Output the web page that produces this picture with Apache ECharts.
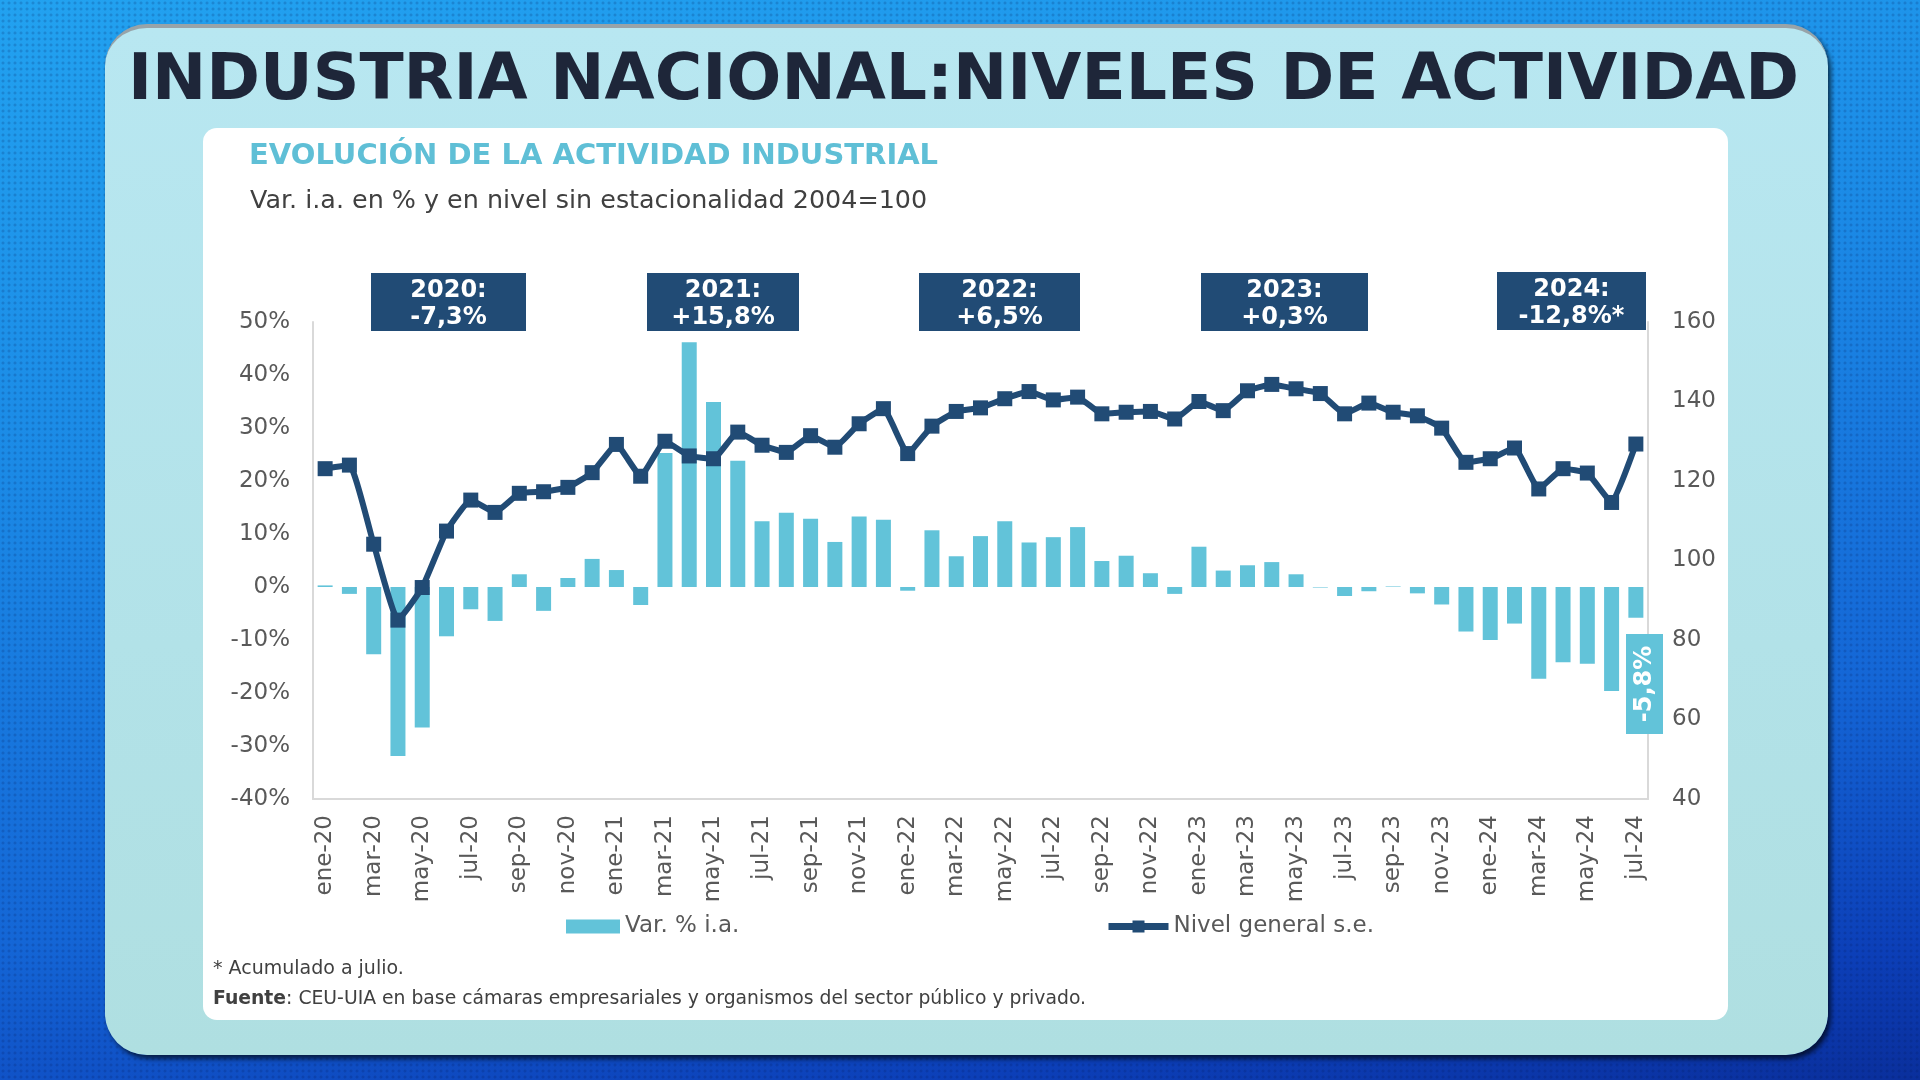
<!DOCTYPE html>
<html>
<head>
<meta charset="utf-8">
<script src="https://cdn.jsdelivr.net/npm/echarts@6/dist/echarts.min.js"></script>
<style>
html,body{margin:0;padding:0;width:1920px;height:1080px;overflow:hidden;}
body{
  background-color:#1a7fe0;
  background-image:
    radial-gradient(rgba(0,20,80,0.18) 1.2px, transparent 1.8px),
    linear-gradient(172deg,#22a2f0 0%,#1b8ae6 35%,#1466d6 70%,#0c3fb8 90%,#0a2f9c 100%);
  background-size:6px 6px, 100% 100%;
}
#panel{position:absolute;left:105px;top:24px;width:1723px;height:1031px;border-radius:42px;
  background:linear-gradient(#b8e7f1,#b2e2e8 60%,#afdfe1);
  border-top:4px solid #98a3a8;box-sizing:border-box;
  box-shadow:3px 4px 5px rgba(0,0,0,0.65);}
#card{position:absolute;left:203px;top:128px;width:1525px;height:892px;border-radius:14px;background:#ffffff;}
#chart{position:absolute;left:0;top:0;width:1920px;height:1080px;}
</style>
</head>
<body>
<div id="panel"></div>
<div id="card"></div>
<div id="chart"></div>
<script>
// ---- data ----
const months = [
  'ene-20','feb-20','mar-20','abr-20','may-20','jun-20','jul-20','ago-20','sep-20','oct-20','nov-20','dic-20',
  'ene-21','feb-21','mar-21','abr-21','may-21','jun-21','jul-21','ago-21','sep-21','oct-21','nov-21','dic-21',
  'ene-22','feb-22','mar-22','abr-22','may-22','jun-22','jul-22','ago-22','sep-22','oct-22','nov-22','dic-22',
  'ene-23','feb-23','mar-23','abr-23','may-23','jun-23','jul-23','ago-23','sep-23','oct-23','nov-23','dic-23',
  'ene-24','feb-24','mar-24','abr-24','may-24','jun-24','jul-24'
];
const varPct = [
  0.3,-1.3,-12.7,-31.9,-26.5,-9.3,-4.2,-6.4,2.4,-4.5,1.7,5.3,
  3.2,-3.4,25.3,46.2,34.9,23.8,12.4,14.0,12.9,8.5,13.3,12.7,
  -0.7,10.7,5.8,9.6,12.4,8.4,9.4,11.3,4.9,5.9,2.6,-1.3,
  7.6,3.1,4.1,4.7,2.4,-0.1,-1.7,-0.8,0.1,-1.2,-3.3,-8.4,
  -10.0,-6.9,-17.3,-14.2,-14.5,-19.6,-5.8
];
const nivel = [
  123.1,124.0,104.1,85.0,93.2,107.4,115.2,112.1,116.9,117.3,118.4,122.1,
  129.2,121.2,130.0,126.3,125.6,132.3,129.0,127.2,131.4,128.5,134.4,138.2,
  126.9,133.8,137.5,138.4,140.7,142.5,140.4,141.1,136.9,137.3,137.5,135.6,
  140.0,137.7,142.7,144.3,143.2,142.0,136.9,139.6,137.3,136.4,133.3,124.7,
  125.6,128.3,118.0,123.1,122.0,114.6,129.3
];
const seriesNames = ['Var. % i.a.', 'Nivel general s.e.'];
const yearLabels = ['2020:\n-7,3%', '2021:\n+15,8%', '2022:\n+6,5%', '2023:\n+0,3%', '2024:\n-12,8%*'];
const lastLabel = '-5,8%';
const mainTitle = 'INDUSTRIA NACIONAL:NIVELES DE ACTIVIDAD';
const chartTitle = 'EVOLUCIÓN DE LA ACTIVIDAD INDUSTRIAL';
const chartSubtitle = 'Var. i.a. en % y en nivel sin estacionalidad 2004=100';
const note1 = '* Acumulado a julio.';
const note2Bold = 'Fuente';
const note2 = ': CEU-UIA en base cámaras empresariales y organismos del sector público y privado.';

// ---- layout / style ----
const NAVY = '#214b75';
const CYAN = '#62c3d9';
const GRAY = '#595959';
const FONT = 'DejaVu Sans';
const boxRects = [
  [371, 273, 155, 58],
  [647, 273, 152, 58],
  [919, 273, 161, 58],
  [1201, 273, 167, 58],
  [1497, 272, 149, 58]
];

const chart = echarts.init(document.getElementById('chart'), null, {renderer: 'canvas'});

const graphics = [];
graphics.push({type:'text', x:128, y:82, style:{text:mainTitle, font:'bold 64.8px "DejaVu Sans"', fill:'#1e2639', textVerticalAlign:'middle'}});
graphics.push({type:'text', x:249, y:156, style:{text:chartTitle, font:'bold 29px "DejaVu Sans"', fill:'#5fbfd6', textVerticalAlign:'middle'}});
graphics.push({type:'text', x:250, y:201, style:{text:chartSubtitle, font:'25.4px "DejaVu Sans"', fill:'#404040', textVerticalAlign:'middle'}});
yearLabels.forEach((t, i) => {
  const r = boxRects[i];
  graphics.push({type:'rect', shape:{x:r[0], y:r[1], width:r[2], height:r[3]}, style:{fill:NAVY}, z:10});
  graphics.push({type:'text', x:r[0] + r[2]/2, y:r[1] + r[3]/2 + 2, z:11,
    style:{text:t, font:'bold 24px "DejaVu Sans"', fill:'#ffffff', textAlign:'center', textVerticalAlign:'middle', lineHeight:27}});
});
graphics.push({type:'rect', shape:{x:1626, y:634, width:37, height:100}, style:{fill:CYAN}, z:10});
graphics.push({type:'text', x:1645, y:684, rotation:Math.PI/2, z:11,
  style:{text:lastLabel, font:'bold 24px "DejaVu Sans"', fill:'#ffffff', textAlign:'center', textVerticalAlign:'middle'}});
graphics.push({type:'text', x:213, y:969, style:{text:note1, font:'19px "DejaVu Sans"', fill:'#404040', textVerticalAlign:'middle'}});
graphics.push({type:'text', x:213, y:999, style:{text:'{b|' + note2Bold + '}' + note2, font:'18.8px "DejaVu Sans"', fill:'#404040', textVerticalAlign:'middle',
  rich:{b:{fontWeight:'bold', fontSize:18.8, fontFamily:FONT, fill:'#404040'}}}});

const option = {
  animation: false,
  textStyle: {fontFamily: FONT},
  grid: {left: 313, top: 322, width: 1335, height: 477},
  legend: [
    {data:[seriesNames[0]], left:561, top:910, itemWidth:54, itemHeight:14, icon:'rect', itemGap:5,
     textStyle:{fontSize:23, color:GRAY, fontFamily:FONT}},
    {data:[seriesNames[1]], left:1100, top:910, itemWidth:60, itemHeight:15,
     lineStyle:{width:7, color:NAVY},
     textStyle:{fontSize:23, color:GRAY, fontFamily:FONT}}
  ],
  xAxis: {
    type: 'category', data: months, boundaryGap: true,
    axisLine: {show: true, onZero: false, lineStyle: {color: '#d9d9d9', width: 2}},
    axisTick: {show: false},
    axisLabel: {rotate: 90, interval: 1, fontSize: 23, color: GRAY, margin: 16, fontFamily: FONT}
  },
  yAxis: [
    {type:'value', min:-40, max:50, interval:10, position:'left',
     axisLine:{show:true, lineStyle:{color:'#d9d9d9', width:2}}, axisTick:{show:false}, splitLine:{show:false},
     axisLabel:{formatter:'{value}%', fontSize:23, color:GRAY, margin:23, fontFamily:FONT}},
    {type:'value', min:40, max:160, interval:20, position:'right',
     axisLine:{show:true, lineStyle:{color:'#d9d9d9', width:2}}, axisTick:{show:false}, splitLine:{show:false},
     axisLabel:{fontSize:23, color:GRAY, margin:24, fontFamily:FONT}}
  ],
  series: [
    {name: seriesNames[0], type: 'bar', yAxisIndex: 0, data: varPct, barWidth: 15,
     itemStyle: {color: CYAN}, z: 2},
    {name: seriesNames[1], type: 'line', yAxisIndex: 1, data: nivel, smooth: 0.12,
     symbol: 'rect', symbolSize: 15, showAllSymbol: true,
     lineStyle: {color: NAVY, width: 6}, itemStyle: {color: NAVY}, z: 3}
  ],
  graphic: graphics
};
chart.setOption(option);
</script>
</body>
</html>
